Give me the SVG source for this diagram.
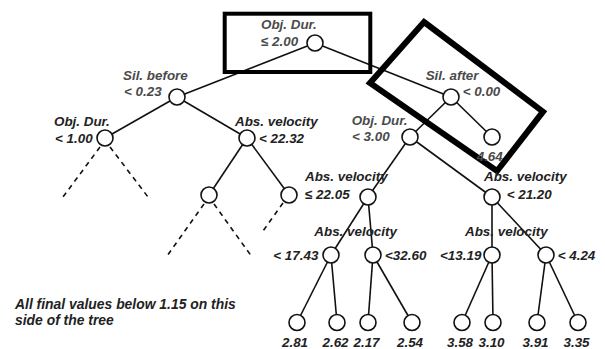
<svg xmlns="http://www.w3.org/2000/svg" width="605" height="349" viewBox="0 0 605 349">
<style>
.e{stroke:#111;stroke-width:1.6;fill:none}
.d{stroke:#111;stroke-width:1.6;fill:none;stroke-dasharray:5 4.5}
.n{fill:#fff;stroke:#111;stroke-width:1.6}
text{font-family:"Liberation Sans",Arial,sans-serif;font-style:italic;font-weight:bold;font-size:13.4px;fill:#222}
.g{fill:#4a4a4a}
.m{text-anchor:middle}
.note{font-size:13.9px}
.box{fill:none;stroke:#000}
</style>
<rect width="605" height="349" fill="#fff"/>
<g id="connectors">
<line class="e" x1="315" y1="43" x2="177" y2="97"/>
<line class="e" x1="315" y1="43" x2="451" y2="97"/>
<line class="e" x1="177" y1="97" x2="105" y2="138"/>
<line class="e" x1="177" y1="97" x2="247" y2="138"/>
<line class="d" x1="100" y1="147" x2="63" y2="197"/>
<line class="d" x1="110" y1="147" x2="148" y2="197"/>
<line class="e" x1="247" y1="138" x2="209" y2="195"/>
<line class="e" x1="247" y1="138" x2="289" y2="195"/>
<line class="d" x1="204" y1="204" x2="167" y2="256"/>
<line class="d" x1="214" y1="204" x2="252" y2="257"/>
<line class="d" x1="283" y1="203" x2="263" y2="231"/>
<line class="e" x1="451" y1="97" x2="410" y2="137"/>
<line class="e" x1="451" y1="97" x2="492" y2="137"/>
<line class="e" x1="410" y1="137" x2="368" y2="197"/>
<line class="e" x1="410" y1="137" x2="492" y2="197"/>
<line class="e" x1="368" y1="197" x2="331" y2="255"/>
<line class="e" x1="368" y1="197" x2="373" y2="255"/>
<line class="e" x1="492" y1="197" x2="492" y2="255"/>
<line class="e" x1="492" y1="197" x2="546" y2="255"/>
<line class="e" x1="331" y1="255" x2="297" y2="322.5"/>
<line class="e" x1="331" y1="255" x2="337" y2="322.5"/>
<line class="e" x1="373" y1="255" x2="368" y2="322.5"/>
<line class="e" x1="373" y1="255" x2="412" y2="322.5"/>
<line class="e" x1="492" y1="255" x2="462" y2="322.5"/>
<line class="e" x1="492" y1="255" x2="493" y2="322.5"/>
<line class="e" x1="546" y1="255" x2="537" y2="322.5"/>
<line class="e" x1="546" y1="255" x2="578" y2="322.5"/>
</g>
<g id="highlight-boxes">
<rect class="box" x="224.7" y="13.7" width="145.6" height="58.3" stroke-width="4"/>
<polygon class="box" points="424,22 543,111.7 497,171 370,83" stroke-width="6"/>
</g>
<g id="root"><circle class="n" cx="315" cy="43" r="8"/><text class="g" x="261" y="29">Obj. Dur.</text><text class="g" x="261" y="45.5">≤ 2.00</text></g>
<g id="sil-before"><circle class="n" cx="177" cy="97" r="8"/><text class="g" x="123" y="79.5">Sil. before</text><text class="g" x="124" y="96">&lt; 0.23</text></g>
<g id="objdur-1"><circle class="n" cx="105" cy="138" r="8"/><text x="54" y="126">Obj. Dur.</text><text x="55" y="142.5">&lt; 1.00</text></g>
<g id="absvel-2232"><circle class="n" cx="247" cy="138" r="8"/><text x="235" y="126">Abs. velocity</text><text x="259" y="142.5">&lt; 22.32</text></g>
<g id="n-a"><circle class="n" cx="209" cy="195" r="8"/></g>
<g id="n-b"><circle class="n" cx="289" cy="195" r="8"/></g>
<g id="sil-after"><circle class="n" cx="451" cy="97" r="8"/><text class="g" x="425.7" y="79.5">Sil. after</text><text class="g" x="462.7" y="96">&lt; 0.00</text></g>
<g id="leaf-464"><circle class="n" cx="492" cy="137" r="8"/><text class="g" x="476.7" y="160.5">4.64</text></g>
<g id="objdur-3"><circle class="n" cx="410" cy="137" r="8"/><text class="g" x="351.7" y="125">Obj. Dur.</text><text class="g" x="352" y="141">&lt; 3.00</text></g>
<g id="absvel-2205"><circle class="n" cx="368" cy="197" r="8"/><text x="305" y="181">Abs. velocity</text><text x="305" y="198.5">≤ 22.05</text></g>
<g id="absvel-2120"><circle class="n" cx="492" cy="197" r="8"/><text x="484" y="181">Abs. velocity</text><text x="506.7" y="198.5">&lt; 21.20</text></g>
<g id="absvel-1743"><circle class="n" cx="331" cy="255" r="8"/><text x="314.3" y="236">Abs. velocity</text><text x="273.3" y="259.5">&lt; 17.43</text></g>
<g id="absvel-3260"><circle class="n" cx="373" cy="255" r="8"/><text x="385" y="259.5">&lt;32.60</text></g>
<g id="absvel-1319"><circle class="n" cx="492" cy="255" r="8"/><text x="465" y="236">Abs. velocity</text><text x="440" y="259.5">&lt;13.19</text></g>
<g id="absvel-424"><circle class="n" cx="546" cy="255" r="8"/><text x="557.7" y="259.5">&lt; 4.24</text></g>
<g id="leaf-281"><circle class="n" cx="297" cy="322.5" r="8"/><text class="m" x="295" y="346.5">2.81</text></g>
<g id="leaf-262"><circle class="n" cx="337" cy="322.5" r="8"/><text class="m" x="335.5" y="346.5">2.62</text></g>
<g id="leaf-217"><circle class="n" cx="368" cy="322.5" r="8"/><text class="m" x="366.5" y="346.5">2.17</text></g>
<g id="leaf-254"><circle class="n" cx="412" cy="322.5" r="8"/><text class="m" x="410" y="346.5">2.54</text></g>
<g id="leaf-358"><circle class="n" cx="462" cy="322.5" r="8"/><text class="m" x="460" y="346.5">3.58</text></g>
<g id="leaf-310"><circle class="n" cx="493" cy="322.5" r="8"/><text class="m" x="491.5" y="346.5">3.10</text></g>
<g id="leaf-391"><circle class="n" cx="537" cy="322.5" r="8"/><text class="m" x="535.5" y="346.5">3.91</text></g>
<g id="leaf-335"><circle class="n" cx="578" cy="322.5" r="8"/><text class="m" x="576.5" y="346.5">3.35</text></g>
<g id="note"><text class="note" x="15" y="308.7">All final values below 1.15 on this</text><text class="note" x="15" y="324.5">side of the tree</text></g>
</svg>
